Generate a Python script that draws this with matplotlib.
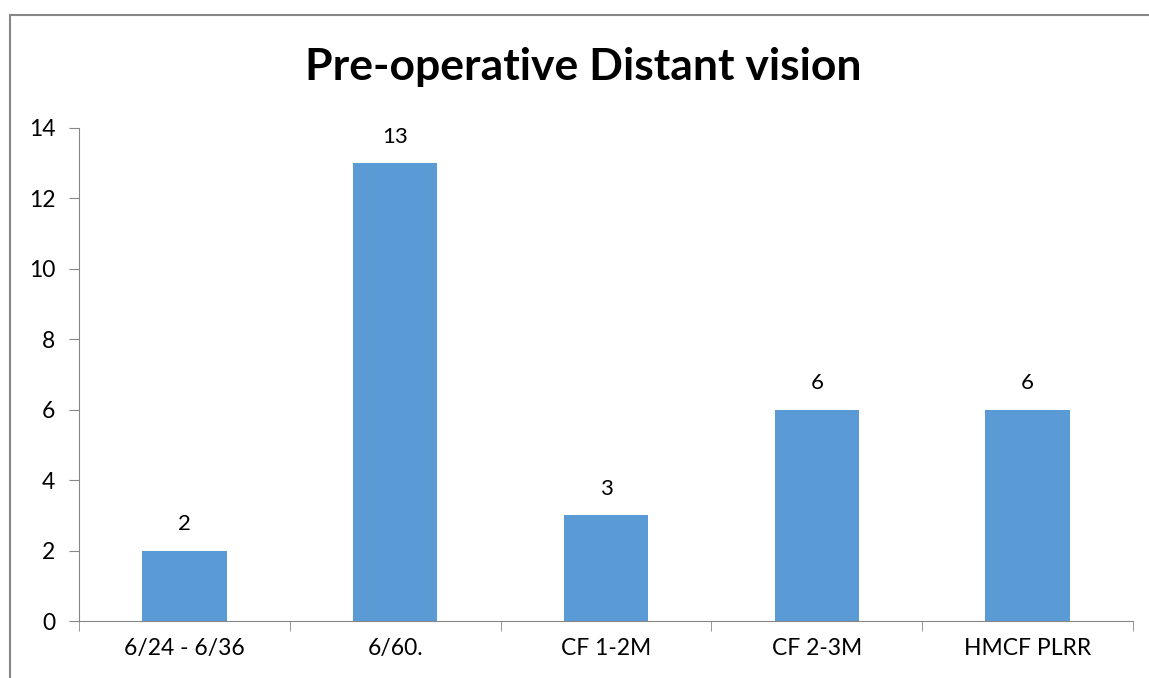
import matplotlib as mpl
mpl.use('Agg')
import matplotlib.pyplot as plt
from matplotlib.patches import Rectangle

categories = ['6/24 - 6/36', '6/60.', 'CF 1-2M', 'CF 2-3M', 'HMCF PLRR']
counts = [2, 13, 3, 6, 6]

plt.rcParams['font.family'] = ['Lato', 'DejaVu Sans']

fig = plt.figure(figsize=(11.49, 6.78), dpi=100)
ax = fig.add_axes([79/1149, 57/678, (1133-79)/1149, (621-128)/678])

x = list(range(len(categories)))
bars = ax.bar(x, counts, width=0.4, color='#5B9BD5')
for b, v in zip(bars, counts):
	ax.text(b.get_x() + b.get_width()/2, v + 0.47, str(v), ha='center', va='bottom', fontsize=16)

ax.set_xlim(-0.5, len(categories) - 0.5)
ax.set_ylim(0, 14)
ax.set_yticks(range(0, 15, 2))
ax.set_xticks(x)
ax.set_xticklabels(categories, fontsize=16.5)
ax.tick_params(axis='y', labelsize=16.5, length=7, color='#868686', pad=10)
# category boundary ticks on the x axis
ax.set_xticks([i - 0.5 for i in range(len(categories) + 1)], minor=True)
ax.tick_params(axis='x', which='major', length=0, pad=12)
ax.tick_params(axis='x', which='minor', length=7, color='#868686')

for s in ['top', 'right']:
	ax.spines[s].set_visible(False)
for s in ['left', 'bottom']:
	ax.spines[s].set_color('#868686')

fig.text(0.508, 1 - 67/678, 'Pre-operative Distant vision', ha='center', va='center',
	fontsize=32, fontweight='bold')

# outer chart frame
fig.patches.append(Rectangle((10/1149, -0.1), 1.2, 1 - 15/678 + 0.1, transform=fig.transFigure,
	fill=False, edgecolor='#878787', linewidth=1.5))

fig.savefig('out.png', dpi=100)
